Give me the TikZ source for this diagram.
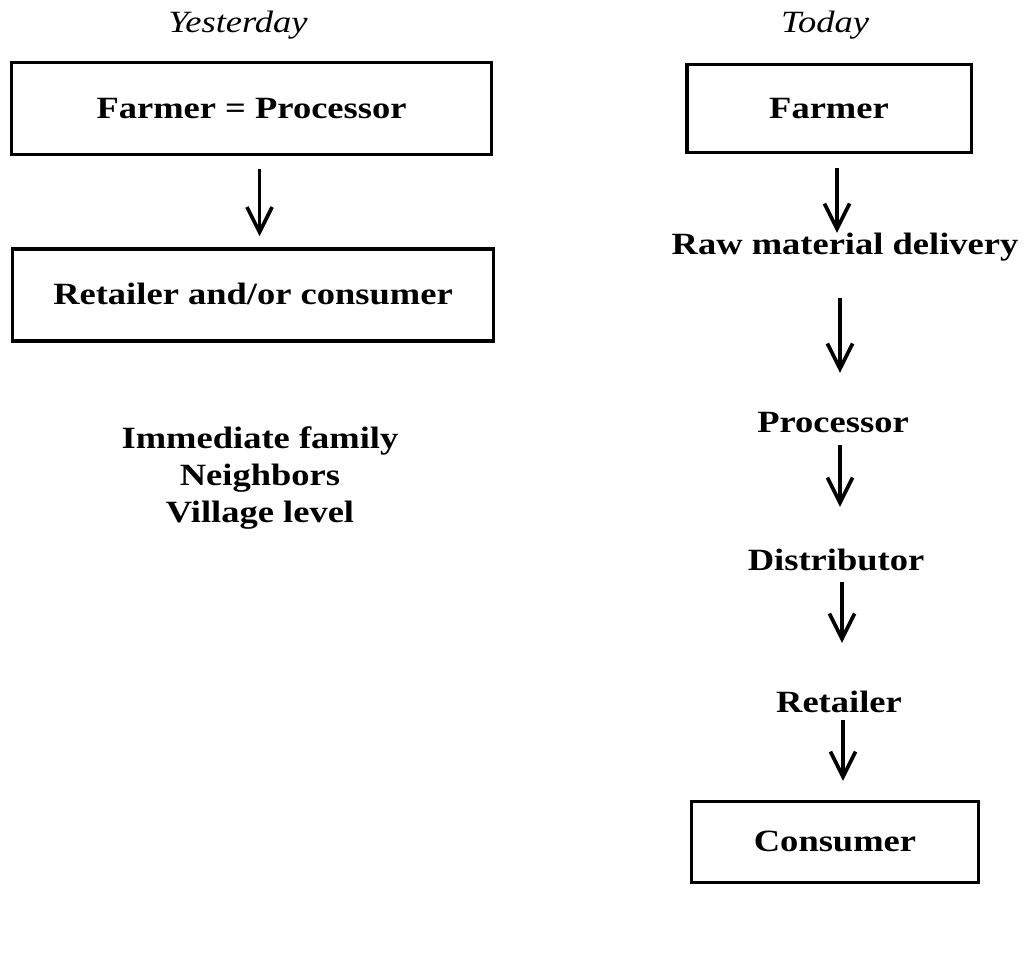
\documentclass[tikz,border=0pt]{standalone}
\usepackage{fontspec}
\setmainfont{Liberation Serif}[FakeStretch=1.18]
\usetikzlibrary{arrows.meta}

\tikzset{
  box/.style={draw, line width=2.2pt, inner sep=0pt, font=\bfseries, text height=14pt, text depth=0pt},
  stage/.style={inner sep=0pt, anchor=base, font=\bfseries, text height=14pt, text depth=4.5pt},
  head/.style={inner sep=0pt, anchor=base, font=\itshape},
  flow/.style={-{Straight Barb[length=6.3mm, width=6.3mm]}, line width=2.6pt}
}

\begin{document}
\fontsize{22}{26.3}\selectfont
\begin{tikzpicture}[x=0.025cm, y=-0.025cm]
\useasboundingbox (0,0) rectangle (1024,956);

% Column headings
\node[head] (yest) at (238,32) {Yesterday};
\node[head] (today) at (825,32) {Today};

% Yesterday chain
\node[box, minimum width=11.98cm, minimum height=2.28cm] (fp) at (251.5,108.5) {Farmer = Processor};
\node[box, minimum width=12.02cm, minimum height=2.3cm] (ret) at (253,295) {Retailer and/or consumer};
\node[stage, align=center] (kin) at (260,522) {Immediate family\\Neighbors\\Village level};

% Today chain
\node[box, minimum width=7.1cm, minimum height=2.18cm] (farmer) at (829,108.5) {Farmer};
\node[stage] (rawmat) at (845,254) {Raw material delivery};
\node[stage] (proc) at (833,432) {Processor};
\node[stage] (distr) at (836,570) {Distributor};
\node[stage] (retl) at (839,712) {Retailer};
\node[box, minimum width=7.16cm, minimum height=2.02cm] (cons) at (835,842) {Consumer};

% Arrows
\draw[flow, shorten <=0.33cm, shorten >=0.28cm] ([xshift=2mm]fp.south) -- ([xshift=2mm]fp.south |- ret.north);

\draw[flow, shorten <=0.36cm, shorten >=0.03cm] ([xshift=2mm]farmer.south) -- ([xshift=2mm]farmer.south |- rawmat.north);
\draw[flow, shorten <=0.94cm, shorten >=0.98cm] ([xshift=-1.25mm]rawmat.south) -- ([xshift=-1.25mm]rawmat.south |- proc.north);
\draw[flow, shorten <=0.17cm, shorten >=1.08cm] ([xshift=1.75mm]proc.south) -- ([xshift=1.75mm]proc.south |- distr.north);
\draw[flow, shorten <=0.14cm, shorten >=1.23cm] ([xshift=1.5mm]distr.south) -- ([xshift=1.5mm]distr.south |- retl.north);
\draw[flow, shorten <=0.04cm, shorten >=0.48cm] ([xshift=1mm]retl.south) -- ([xshift=1mm]retl.south |- cons.north);

\end{tikzpicture}
\end{document}
